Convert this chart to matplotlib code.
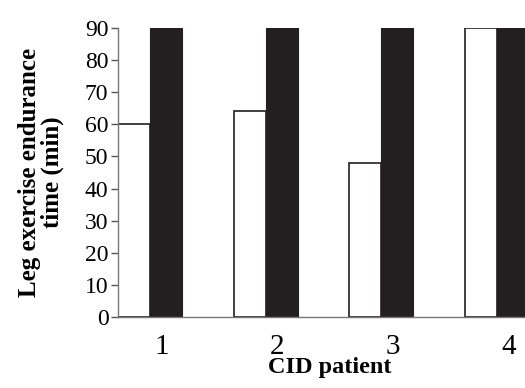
import numpy as np
import matplotlib
matplotlib.use("Agg")
import matplotlib.pyplot as plt

patients = ["1", "2", "3", "4"]
before = [60, 64, 48, 90]   # white bars
after = [90, 90, 90, 90]    # black bars

plt.rcParams['font.family'] = ['Liberation Serif', 'DejaVu Serif']

fig = plt.figure(figsize=(5.25, 3.88), dpi=100)
ax = fig.add_axes([0.225, 0.183, 0.775, 0.745])

x = np.arange(1, len(patients) + 1)
w = 0.277
ax.bar(x - w / 2, before, width=w, color="white", edgecolor="#231f20", linewidth=1.2)
ax.bar(x + w / 2, after, width=w, color="#231f20", edgecolor="#231f20", linewidth=0.8)

ax.set_xlim(1 - w, 4 + 0.242)
ax.set_ylim(0, 90)
ax.set_yticks(np.arange(0, 91, 10))
ax.set_xticks(x + 0.1)
ax.set_xticklabels(patients, fontsize=21)
ax.tick_params(axis='x', length=0, pad=12)
ax.tick_params(axis='y', labelsize=17, length=5, width=1, color="#555555", pad=2)

for s in ['top', 'right']:
    ax.spines[s].set_visible(False)
ax.spines['left'].set_color("#777777")
ax.spines['bottom'].set_color("#777777")
ax.spines['left'].set_linewidth(1)
ax.spines['bottom'].set_linewidth(1)

ax.set_ylabel("Leg exercise endurance\ntime (min)", fontsize=18, fontweight='bold',
              linespacing=0.95, labelpad=15)
ax.set_xlabel("CID patient", fontsize=17.5, fontweight='bold')
ax.xaxis.set_label_coords(0.52, -0.14)

fig.savefig("out.png", dpi=100)
